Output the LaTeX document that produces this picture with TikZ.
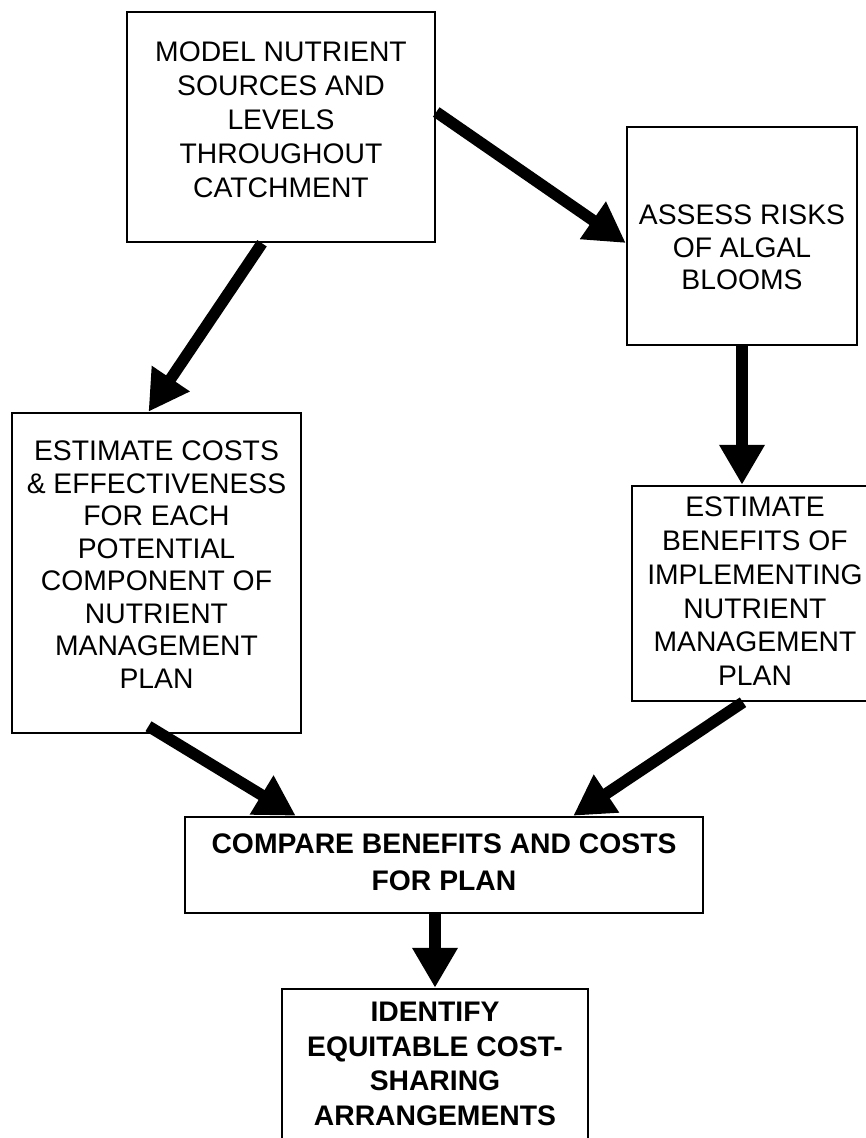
\documentclass[tikz,border=0pt]{standalone}
\usepackage{fontspec}
\setmainfont{Liberation Sans}
\usetikzlibrary{arrows.meta, positioning}
\tikzset{
  every picture/.style={x=1pt, y=-1pt},
  box/.style={draw=black, line width=2.5pt, inner sep=0pt},
  txt/.style={inner sep=0pt, align=center, font=\fontsize{28.3}{#1}\selectfont},
  txt/.default=32.5,
  txtb/.style={inner sep=0pt, align=center, font=\fontsize{28.3}{#1}\selectfont\bfseries},
  txtb/.default=32.5,
  flow/.style={-{Triangle[length=40pt, width=43pt]}, line width=11.5pt},
}
\begin{document}
\begin{tikzpicture}
  \useasboundingbox (0,0) rectangle (865,1138);
  % boxes
  \node[box, minimum width=308pt, minimum height=230pt] (model) at (281,127) {};
  \node[box, minimum width=230pt, minimum height=218pt] (assess) at (742,236) {};
  \node[box, minimum width=289pt, minimum height=320pt] (costs) at (156.5,573) {};
  \node[box, minimum width=246pt, minimum height=215pt] (benefits) at (755,593.5) {};
  \node[box, minimum width=518pt, minimum height=96pt] (compare) at (444,865) {};
  \node[box, minimum width=306pt, minimum height=172pt] (identify) at (435,1075) {};
  % texts
  \node[txt=34, below=31pt of model.north] (modelt) {MODEL NUTRIENT\\SOURCES AND\\LEVELS\\THROUGHOUT\\CATCHMENT};
  \node[txt, below=79pt of assess.north] (assesst) {ASSESS RISKS\\OF ALGAL\\BLOOMS};
  \node[txt, below=29pt of costs.north] (costst) {ESTIMATE COSTS\\\& EFFECTIVENESS\\FOR EACH\\POTENTIAL\\COMPONENT OF\\NUTRIENT\\MANAGEMENT\\PLAN};
  \node[txt=33.8, below=12pt of benefits.north] (benefitst) {ESTIMATE\\BENEFITS OF\\IMPLEMENTING\\NUTRIENT\\MANAGEMENT\\PLAN};
  \node[txtb=36.5, below=18pt of compare.north] (comparet) {COMPARE BENEFITS AND COSTS\\FOR PLAN};
  \node[txtb=34.6, below=14pt of identify.north] (identifyt) {IDENTIFY\\EQUITABLE COST-\\SHARING\\ARRANGEMENTS};
  % arrows
  \draw[flow] ([yshift=15pt]model.east) -- ([yshift=-7pt]assess.west);
  \draw[flow] ([xshift=-19pt]model.south) -- ([xshift=-8pt]costs.north);
  \draw[flow] (assess.south) -- (assess.south |- benefits.north);
  \draw[flow] ([xshift=-8pt, yshift=8pt]costs.south) -- ([xshift=112pt]compare.north west);
  \draw[flow] ([xshift=-12pt]benefits.south) -- ([xshift=-131pt]compare.north east);
  \draw[flow] (compare.south -| identify.north) -- (identify.north);
\end{tikzpicture}
\end{document}
